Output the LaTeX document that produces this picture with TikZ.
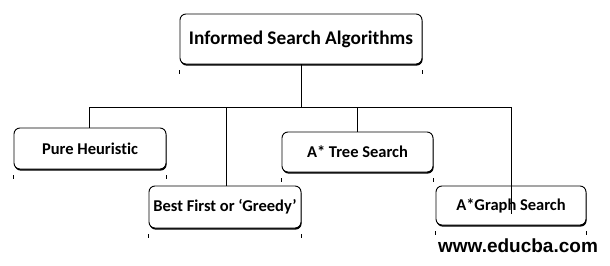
\documentclass[tikz,border=0pt]{standalone}
\usepackage{fontspec}
\setmainfont{Carlito}[Ligatures={NoCommon}]
\newfontfamily\wmfont{Liberation Sans}
\usetikzlibrary{shadows}
\begin{document}
\begin{tikzpicture}[x=1pt,y=-1pt,
  algbox/.style={draw=black, line width=0.9pt, rounded corners=6pt, fill=white,
    font=\bfseries\fontsize{16.5}{18}\selectfont, inner sep=0pt,
    drop shadow={shadow xshift=0.6pt, shadow yshift=-1.6pt, fill=black, opacity=1}},
  link/.style={draw=black, line width=0.9pt},
  tickmark/.style={draw=black, line width=0.7pt}]
\useasboundingbox (0,0) rectangle (610,265);
% root of the taxonomy
\node[algbox, minimum width=242pt, minimum height=50pt,
  font=\bfseries\fontsize{19.3}{22}\selectfont] (root) at (301,39) {Informed Search Algorithms};
% child categories
\node[algbox, minimum width=152pt, minimum height=41pt] (ph) at (90,148.5) {Pure Heuristic};
\node[algbox, minimum width=152pt, minimum height=42pt] (bf) at (225,207) {Best First or ‘Greedy’};
\node[algbox, minimum width=151pt, minimum height=40pt] (at) at (357.5,152) {A* Tree Search};
\node[algbox, minimum width=150pt, minimum height=39pt] (ag) at (511,205.5) {A*Graph Search};
% small marks under the box corners
\foreach \b in {root,ph,bf,at,ag}{
  \draw[tickmark] ([yshift=-6pt]\b.south west) -- ++(0,4);
  \draw[tickmark] ([yshift=-6pt]\b.south east) -- ++(0,4);
}
% horizontal bus
\coordinate (busL) at (89,107);
\coordinate (busR) at (511,107);
\coordinate (agEnd) at (511,214);
\draw[link] (busL) -- (busR);
\draw[link] (root.south) -- (root.south |- busL);
\draw[link] (busL) -- (busL |- ph.north);
\draw[link] (bf.north -| 226,0) -- (226,107);
\draw[link] (at.north -| 357,0) -- (357,107);
\draw[link] (busR) -- (agEnd);
% site mark
\node[font=\wmfont\bfseries\fontsize{19}{21}\selectfont, inner sep=0pt] (wm) at (518,246) {www.educba.com};
\end{tikzpicture}
\end{document}
